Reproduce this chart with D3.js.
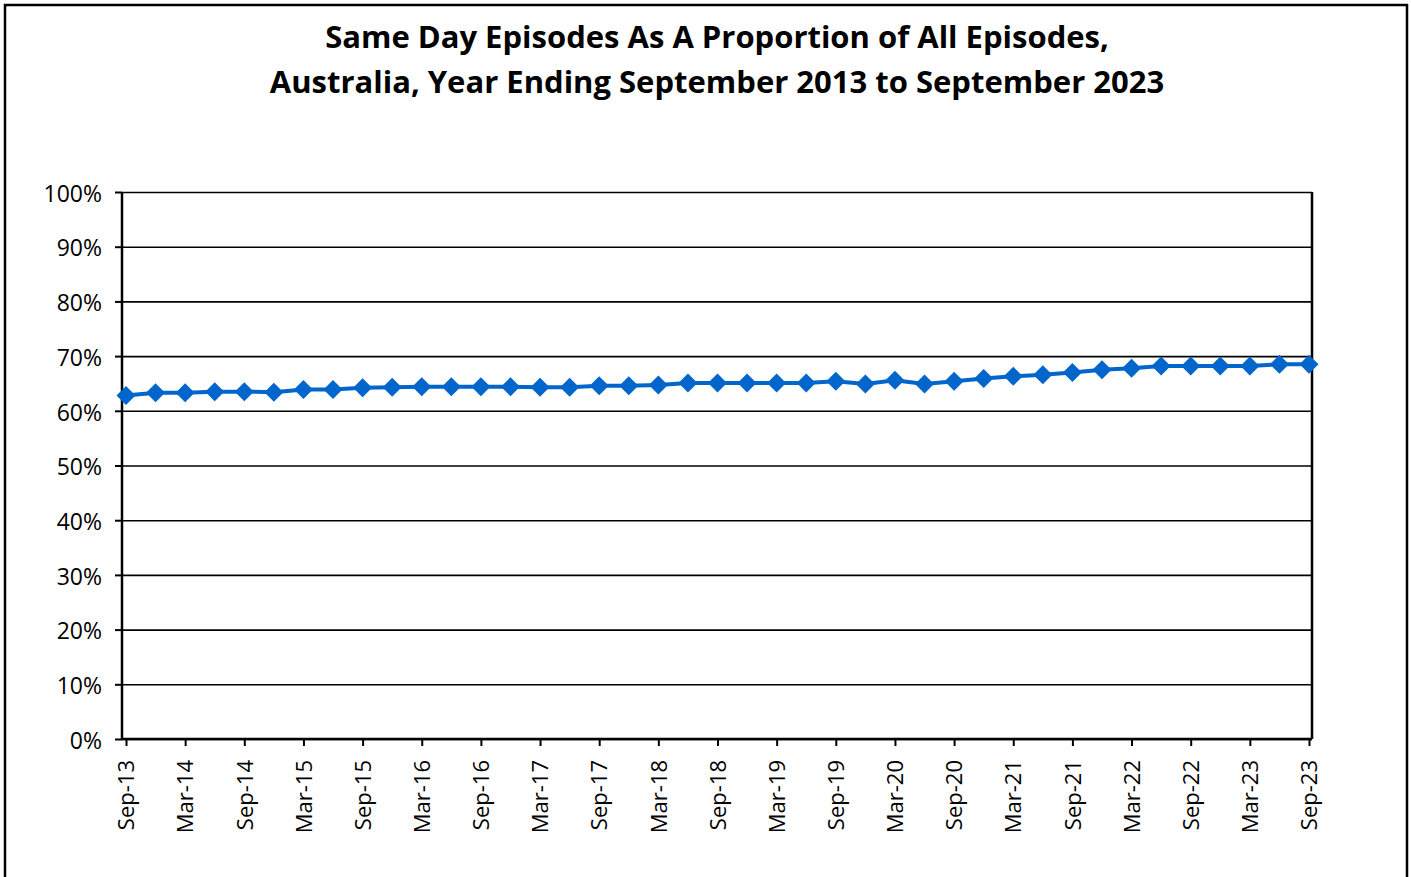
<!DOCTYPE html>
<html>
<head>
<meta charset="utf-8">
<script src="https://cdn.jsdelivr.net/npm/d3@7"></script>
<style>
  body { margin: 0; background: #fff; }
  svg { display: block; }
</style>
</head>
<body>
<svg id="chart" width="1411" height="877"></svg>
<script>
// quarterly, year ending
var quarters = ["Sep-13","Dec-13","Mar-14","Jun-14","Sep-14","Dec-14","Mar-15","Jun-15",
  "Sep-15","Dec-15","Mar-16","Jun-16","Sep-16","Dec-16","Mar-17","Jun-17",
  "Sep-17","Dec-17","Mar-18","Jun-18","Sep-18","Dec-18","Mar-19","Jun-19",
  "Sep-19","Dec-19","Mar-20","Jun-20","Sep-20","Dec-20","Mar-21","Jun-21",
  "Sep-21","Dec-21","Mar-22","Jun-22","Sep-22","Dec-22","Mar-23","Jun-23","Sep-23"];

var sameDayPct = [62.8, 63.3, 63.3, 63.5, 63.5, 63.4, 63.9, 63.9,
  64.2, 64.3, 64.4, 64.4, 64.4, 64.4, 64.3, 64.3,
  64.6, 64.6, 64.7, 65.1, 65.1, 65.1, 65.1, 65.1,
  65.4, 64.9, 65.6, 64.9, 65.4, 65.9, 66.3, 66.6,
  67.0, 67.5, 67.8, 68.2, 68.2, 68.2, 68.2, 68.5, 68.5];

var yTicks = [0, 10, 20, 30, 40, 50, 60, 70, 80, 90, 100];
var xTickLabels = quarters.filter(function(d, i) { return i % 2 === 0; });

var titleLines = ["Same Day Episodes As A Proportion of All Episodes,",
  "Australia, Year Ending September 2013 to September 2023"];

var svg = d3.select("#chart");
var fontFamily = "'Open Sans', 'Liberation Sans', sans-serif";

// outer frame
svg.append("rect")
  .attr("x", 5).attr("y", 5)
  .attr("width", 1402).attr("height", 880)
  .attr("fill", "none").attr("stroke", "#000").attr("stroke-width", 2.5);

// title
svg.selectAll("text.title").data(titleLines).enter().append("text")
  .attr("class", "title")
  .attr("x", 717)
  .attr("y", function(d, i) { return 48 + i * 45; })
  .attr("text-anchor", "middle")
  .attr("font-family", fontFamily)
  .attr("font-weight", "bold")
  .attr("font-size", 31)
  .text(function(d) { return d; });

var plot = { left: 122, right: 1312, top: 192, bottom: 739 };

var x = d3.scalePoint()
  .domain(quarters)
  .range([126, 1309]);

var y = d3.scaleLinear()
  .domain([0, 100])
  .range([plot.bottom, plot.top]);

// gridlines
svg.append("g")
  .attr("transform", "translate(" + plot.left + ",0)")
  .call(d3.axisLeft(y).tickValues(yTicks).tickSize(-(plot.right - plot.left)).tickFormat(""))
  .call(function(g) {
    g.select(".domain").remove();
    g.selectAll("line").attr("stroke", "#000").attr("stroke-width", 1.6);
  });

// right border
svg.append("line")
  .attr("x1", plot.right).attr("x2", plot.right)
  .attr("y1", plot.top).attr("y2", plot.bottom)
  .attr("stroke", "#000").attr("stroke-width", 2.5);

// y axis
svg.append("g")
  .attr("transform", "translate(" + plot.left + ",0)")
  .call(d3.axisLeft(y).tickValues(yTicks).tickSize(7).tickPadding(13)
    .tickFormat(function(d) { return d + "%"; }))
  .call(function(g) {
    g.select(".domain").attr("stroke", "#000").attr("stroke-width", 2.5)
      .attr("d", "M0," + plot.top + "V" + plot.bottom);
    g.selectAll("line").attr("stroke", "#000").attr("stroke-width", 2);
    g.selectAll("text").attr("font-family", fontFamily).attr("font-size", 23)
      .attr("fill", "#000").attr("dy", "0.4em");
  });

// x axis
svg.append("g")
  .attr("transform", "translate(0," + plot.bottom + ")")
  .call(d3.axisBottom(x).tickValues(xTickLabels).tickSize(7).tickSizeOuter(0))
  .call(function(g) {
    g.select(".domain").attr("stroke", "#000").attr("stroke-width", 2.5)
      .attr("d", "M" + plot.left + ",0H" + plot.right);
    g.selectAll("line").attr("stroke", "#000").attr("stroke-width", 2);
    g.selectAll("text")
      .attr("font-family", fontFamily).attr("font-size", 22).attr("fill", "#000")
      .attr("transform", "rotate(-90)")
      .attr("text-anchor", "end")
      .attr("x", -21).attr("y", 0).attr("dy", "0.35em");
  });

// series line
var line = d3.line()
  .x(function(d, i) { return x(quarters[i]); })
  .y(function(d) { return y(d); });

svg.append("path")
  .datum(sameDayPct)
  .attr("d", line)
  .attr("fill", "none")
  .attr("stroke", "#0066CC")
  .attr("stroke-width", 4);

svg.selectAll("path.marker").data(sameDayPct).enter().append("path")
  .attr("class", "marker")
  .attr("d", d3.symbol().type(d3.symbolDiamond2).size(230))
  .attr("transform", function(d, i) {
    return "translate(" + x(quarters[i]) + "," + y(d) + ")";
  })
  .attr("fill", "#0066CC");
</script>
</body>
</html>
